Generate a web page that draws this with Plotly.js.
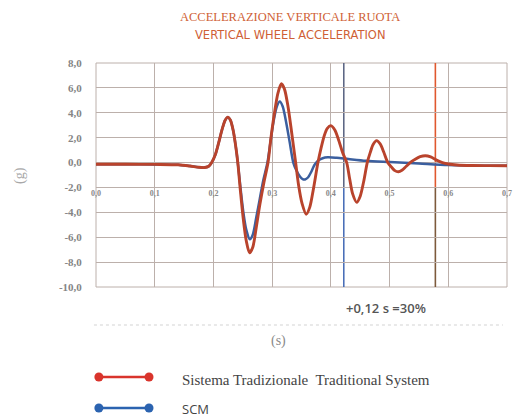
<!DOCTYPE html>
<html><head><meta charset="utf-8">
<script src="https://cdn.plot.ly/plotly-3.0.1.min.js"></script>
<style>html,body{margin:0;padding:0;background:#fff}#chart{width:516px;height:417px}</style>
</head><body><div id="chart"></div>
<script>
// --- data ---
const tradT = [0, 0.05, 0.10, 0.14, 0.16, 0.175, 0.185, 0.192,
  0.197, 0.203, 0.209, 0.215, 0.22, 0.2245, 0.229, 0.234, 0.238,
  0.2415, 0.246, 0.251, 0.256, 0.2615, 0.267, 0.273, 0.279, 0.286,
  0.293, 0.298, 0.304, 0.31, 0.3157, 0.321, 0.327, 0.333,
  0.34, 0.345, 0.351, 0.358, 0.364, 0.37,
  0.378, 0.383, 0.389, 0.394, 0.40, 0.407, 0.414, 0.42,
  0.427, 0.432, 0.437, 0.444, 0.45, 0.456,
  0.462, 0.467, 0.472, 0.478, 0.484, 0.49,
  0.497, 0.503, 0.509, 0.515, 0.521, 0.528,
  0.535, 0.543, 0.552, 0.561, 0.57, 0.58, 0.59, 0.60, 0.615, 0.64, 0.67, 0.70];
const tradV = [-0.14, -0.14, -0.15, -0.18, -0.28, -0.38, -0.4, -0.3,
  0, 0.6, 1.6, 2.7, 3.4, 3.65, 3.4, 2.5, 1.3,
  0, -2.3, -4.6, -6.3, -7.25, -6.8, -5.2, -3.4, -1.6,
  0, 2.0, 4.0, 5.6, 6.33, 5.9, 4.5, 2.5,
  0, -1.8, -3.3, -4.15, -3.6, -2.2,
  0, 1.1, 2.2, 2.75, 2.97, 2.6, 1.7, 0.8,
  0, -1.3, -2.5, -3.2, -2.7, -1.5,
  0, 0.8, 1.45, 1.76, 1.5, 0.85,
  0, -0.35, -0.65, -0.74, -0.62, -0.32,
  0, 0.25, 0.47, 0.55, 0.45, 0.2, 0, -0.12, -0.2, -0.24, -0.25, -0.26];
const scmT = [0, 0.05, 0.10, 0.14, 0.16, 0.175, 0.185, 0.192,
  0.197, 0.203, 0.209, 0.215, 0.22, 0.2245, 0.229, 0.234, 0.238,
  0.2415, 0.246, 0.251, 0.256, 0.262, 0.267, 0.273, 0.279, 0.285,
  0.292, 0.297, 0.302, 0.308, 0.313, 0.318, 0.324, 0.33,
  0.336, 0.341, 0.347, 0.352, 0.356, 0.361, 0.366, 0.372, 0.378, 0.386, 0.395,
  0.41, 0.43, 0.46, 0.50, 0.55, 0.60, 0.65, 0.70];
const scmV = [-0.14, -0.14, -0.15, -0.18, -0.28, -0.38, -0.4, -0.3,
  0, 0.6, 1.6, 2.7, 3.4, 3.65, 3.4, 2.5, 1.3,
  0, -2.0, -4.0, -5.4, -6.17, -5.8, -4.4, -2.9, -1.4,
  0, 1.6, 3.2, 4.5, 4.9, 4.5, 3.2, 1.6,
  0, -0.6, -1.1, -1.33, -1.36, -1.2, -0.8, -0.2, 0.15, 0.35, 0.42,
  0.38, 0.28, 0.14, 0.04, -0.08, -0.2, -0.25, -0.26];
const markerTimes = [0.422, 0.578];   // SCM settle, traditional settle
const yTickVals = [8, 6, 4, 2, 0, -2, -4, -6, -8, -10];
const yTickText = ["8,0", "6,0", "4,0", "2,0", "0,0", "-2,0", "-4,0", "-6,0", "-8,0", "-10,0"];
const xTickVals = [0, 0.1, 0.2, 0.3, 0.4, 0.5, 0.6, 0.7];
const xTickText = ["0,0", "0,1", "0,2", "0,3", "0,4", "0,5", "0,6", "0,7"];
const seriesNames = ["Sistema Tradizionale  Traditional System", "SCM"];
const seriesColors = ["#b9432c", "#3b5f9f"];
const legendColors = ["#d9342c", "#2b63b0"];

const traces = [
  {x: scmT, y: scmV, type: 'scatter', mode: 'lines', name: seriesNames[1],
   line: {color: seriesColors[1], width: 2.5, shape: 'spline', smoothing: 0.8}, showlegend: false},
  {x: tradT, y: tradV, type: 'scatter', mode: 'lines', name: seriesNames[0],
   line: {color: seriesColors[0], width: 2.9, shape: 'spline', smoothing: 0.8}, showlegend: false}
];

const gridC = '#bcb0ab';
const shapes = [
  {type: 'rect', xref: 'paper', yref: 'paper', x0: 0, x1: 1, y0: 0, y1: 1, line: {color: gridC, width: 1}, layer: 'below'},
  // marker lines: upper and lower parts
  {type: 'line', xref: 'x', yref: 'y', x0: markerTimes[0], x1: markerTimes[0], y0: -2, y1: 8, line: {color: '#5d6785', width: 1.6}, layer: 'below'},
  {type: 'line', xref: 'x', yref: 'y', x0: markerTimes[0], x1: markerTimes[0], y0: -10, y1: -2, line: {color: '#4a6fb8', width: 1.6}, layer: 'below'},
  {type: 'line', xref: 'x', yref: 'y', x0: markerTimes[1], x1: markerTimes[1], y0: -2, y1: 8, line: {color: '#e0582e', width: 1.6}, layer: 'below'},
  {type: 'line', xref: 'x', yref: 'y', x0: markerTimes[1], x1: markerTimes[1], y0: -10, y1: -2, line: {color: '#7d5a3c', width: 1.6}, layer: 'below'},
  // faint dotted separator
  {type: 'line', xref: 'paper', yref: 'paper', x0: -0.005, x1: 0.99, y0: -0.17, y1: -0.17, line: {color: '#e2e2e2', width: 1.5, dash: 'dot'}},
  // legend lines
  {type: 'line', xref: 'paper', yref: 'paper', x0: 0.007, x1: 0.129, y0: -0.402, y1: -0.402, line: {color: legendColors[0], width: 2.5}},
  {type: 'line', xref: 'paper', yref: 'paper', x0: 0.007, x1: 0.129, y0: -0.540, y1: -0.540, line: {color: legendColors[1], width: 2.5}}
];
[[0.007, -0.402, 0], [0.129, -0.402, 0], [0.007, -0.540, 1], [0.129, -0.540, 1]].forEach(p => {
  shapes.push({type: 'circle', xref: 'paper', yref: 'paper', xsizemode: 'pixel', ysizemode: 'pixel',
    xanchor: p[0], yanchor: p[1], x0: -4.5, x1: 4.5, y0: -4.5, y1: 4.5,
    fillcolor: legendColors[p[2]], line: {color: legendColors[p[2]], width: 0}});
});

function ann(text, x, y, font, extra) {
  return Object.assign({text: text, xref: 'paper', yref: 'paper', x: x, y: y, showarrow: false,
    xanchor: 'center', yanchor: 'middle', font: font}, extra || {});
}
const annotations = [
  ann('ACCELERAZIONE VERTICALE RUOTA', 0.472, 1.205, {family: 'Liberation Serif, serif', size: 12.5, color: '#cf5f36'}),
  ann('VERTICAL WHEEL ACCELERATION', 0.474, 1.126, {family: 'DejaVu Sans, sans-serif', size: 11.5, color: '#cf5f36'}),
  ann('+0,12 s =30%', 0.706, -0.094, {family: 'Open Sans, sans-serif', size: 13, color: '#555', weight: 600}),
  ann('(s)', 0.443, -0.241, {family: 'Liberation Serif, serif', size: 14, color: '#8a8a8a'}),
  ann('(g)', -0.185, 0.5, {family: 'Liberation Serif, serif', size: 14, color: '#a8a8a8'}, {textangle: -90}),
  ann(seriesNames[0], 0.204, -0.415, {family: 'Liberation Serif, serif', size: 15, color: '#444'}, {xanchor: 'left'}),
  ann(seriesNames[1], 0.204, -0.545, {family: 'Open Sans, sans-serif', size: 13, color: '#444'}, {xanchor: 'left'})
];

const layout = {
  width: 516, height: 417,
  margin: {l: 96, r: 9, t: 63, b: 130},
  paper_bgcolor: '#fff', plot_bgcolor: '#fff',
  showlegend: false,
  xaxis: {range: [0, 0.7], tickvals: xTickVals, ticktext: xTickText, anchor: 'free', position: 8 / 18,
    showgrid: true, gridcolor: gridC, gridwidth: 1.2, zeroline: false, showline: false, ticks: '',
    tickfont: {family: 'Liberation Serif, serif', size: 8, color: '#888', weight: 'bold'}, fixedrange: true},
  yaxis: {range: [-10, 8], tickvals: yTickVals, ticktext: yTickText, showgrid: true, gridcolor: gridC, gridwidth: 1.2,
    zeroline: false, showline: false, ticks: 'outside', ticklen: 11, tickcolor: 'rgba(0,0,0,0)',
    tickfont: {family: 'Liberation Serif, serif', size: 11, color: '#858585', weight: 'bold'}, fixedrange: true},
  shapes: shapes,
  annotations: annotations
};

Plotly.newPlot('chart', traces, layout, {staticPlot: true, displayModeBar: false});
</script></body></html>
